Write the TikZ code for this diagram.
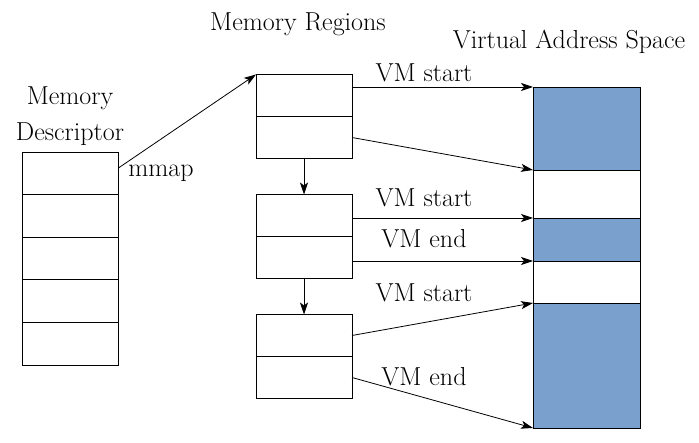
\documentclass[tikz,border=0pt]{standalone}
\usepackage{xcolor}
\usepackage{tikz}
\usetikzlibrary{arrows.meta, positioning}
\definecolor{vmblue}{RGB}{122,160,206}
\tikzset{
    cell/.style={rectangle, draw, line width=0.9pt, inner sep=0pt, outer sep=0pt, minimum width=96pt, minimum height=42.6pt},
    seg/.style={rectangle, draw, line width=0.9pt, inner sep=0pt, outer sep=0pt, minimum width=107pt},
    used/.style={seg, fill=vmblue},
    free/.style={seg, fill=white},
    lbl/.style={font=\fontsize{26}{30}\selectfont, anchor=base, inner sep=0pt},
    arrow/.style={line width=0.8pt, -{Stealth[length=12pt, width=8pt, inset=3pt]}}
}

\begin{document}
\begin{tikzpicture}[x=1pt, y=-1pt]
    \useasboundingbox (0,0) rectangle (699,443);

    % memory descriptor
    \node (d1) [cell] at (70,173.3) {};
    \node (d2) [cell, below=0pt of d1] {};
    \node (d3) [cell, below=0pt of d2] {};
    \node (d4) [cell, below=0pt of d3] {};
    \node (d5) [cell, below=0pt of d4] {};
    \node (descA) [lbl] at (70,105) {Memory};
    \node (descB) [lbl] at (70,141) {Descriptor};
    \node (mmap) [lbl] at (161,177) {mmap};

    % memory regions
    \node (r1a) [cell, minimum height=42pt] at (304,95.5) {};
    \node (r1b) [cell, minimum height=42pt, below=0pt of r1a] {};
    \node (r2a) [cell, minimum height=42pt] at (304,215.5) {};
    \node (r2b) [cell, minimum height=42pt, below=0pt of r2a] {};
    \node (r3a) [cell, minimum height=42pt] at (304,335.5) {};
    \node (r3b) [cell, minimum height=42pt, below=0pt of r3a] {};
    \node (regions) [lbl] at (298,31) {Memory Regions};

    % virtual address space
    \node (v1) [used, minimum height=83pt] at (586.5,128.5) {};
    \node (v2) [free, minimum height=48pt, below=0pt of v1] {};
    \node (v3) [used, minimum height=43pt, below=0pt of v2] {};
    \node (v4) [free, minimum height=42pt, below=0pt of v3] {};
    \node (v5) [used, minimum height=125pt, below=0pt of v4] {};
    \node (vas) [lbl] at (569,49) {Virtual Address Space};

    % labels
    \node (s1) [lbl] at (424,82) {VM start};
    \node (s2) [lbl] at (424,207) {VM start};
    \node (e2) [lbl] at (424,248) {VM end};
    \node (s3) [lbl] at (424,302) {VM start};
    \node (e3) [lbl] at (424,386) {VM end};

    \draw [arrow] ([yshift=5pt]d1.east) -- (r1a.north west);
    \draw [arrow] (r1b) -- (r2a);
    \draw [arrow] (r2b) -- (r3a);
    \draw [arrow] (r1a.east |- v1.north west) -- (v1.north west);
    \draw [arrow] (r1b.east) -- (v1.south west);
    \draw [arrow] (r2a.east |- v3.north west) -- (v3.north west);
    \draw [arrow] (r2b.east |- v3.south west) -- (v3.south west);
    \draw [arrow] (r3a.east) -- (v4.south west);
    \draw [arrow] (r3b.east) -- (v5.south west);
\end{tikzpicture}
\end{document}
